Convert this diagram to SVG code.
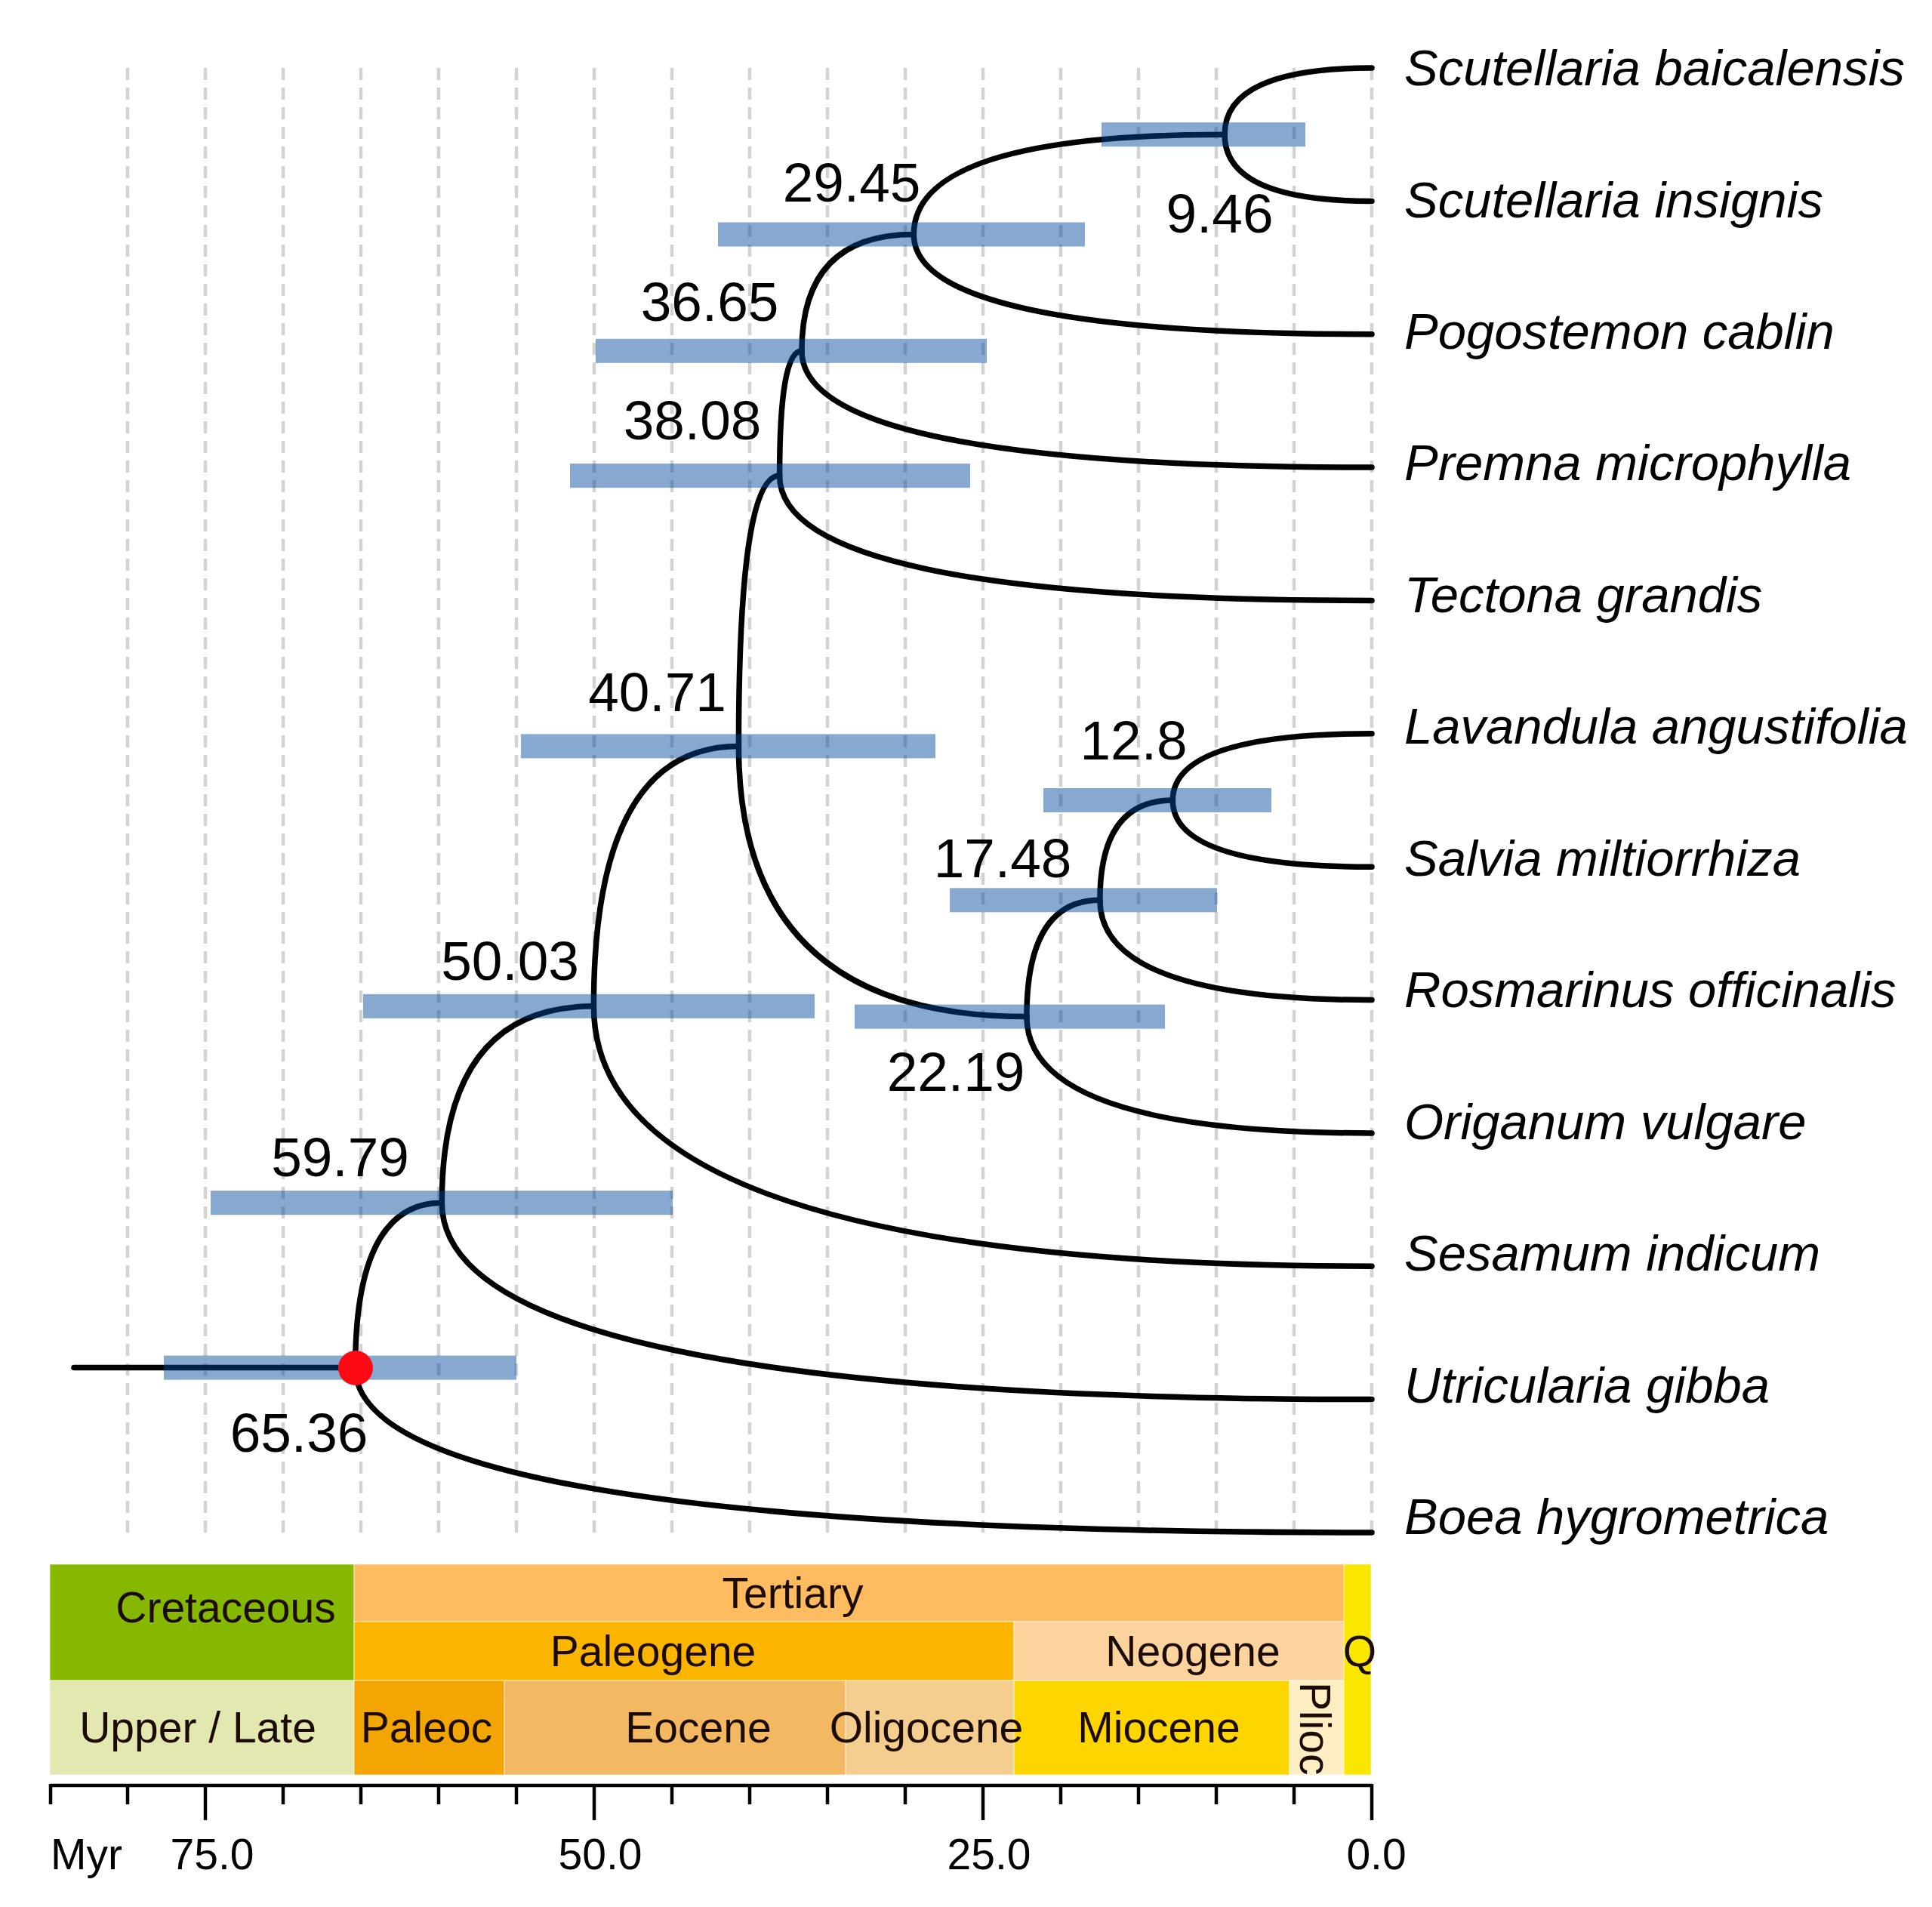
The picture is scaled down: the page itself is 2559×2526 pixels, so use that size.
<svg xmlns="http://www.w3.org/2000/svg" width="2559" height="2526" viewBox="0 0 2559 2526">
<style>
.grid{stroke:#d2d2d2;stroke-width:4.5;stroke-dasharray:16 10;fill:none}
.br{fill:none;stroke:#000;stroke-width:7.5;stroke-linecap:round}
.hpd{fill:#00469a;fill-opacity:0.47}
.age{font-family:"Liberation Sans",Arial,sans-serif;font-size:73px;fill:#000;text-anchor:middle}
.tip{font-family:"Liberation Sans",Arial,sans-serif;font-size:67px;font-style:italic;fill:#000}
.gt{font-family:"Liberation Sans",Arial,sans-serif;font-size:57px;fill:#1c0b00;text-anchor:middle}
.ax{font-family:"Liberation Sans",Arial,sans-serif;font-size:57px;fill:#000;text-anchor:middle}
.box{stroke:#ffffff;stroke-opacity:0.45;stroke-width:1.5}
.tick{stroke:#000;stroke-width:4.5}
</style>
<rect width="2559" height="2526" fill="#fff"/>
<g id="grid">
<line class="grid" x1="169" y1="90" x2="169" y2="2032"/>
<line class="grid" x1="272" y1="90" x2="272" y2="2032"/>
<line class="grid" x1="375" y1="90" x2="375" y2="2032"/>
<line class="grid" x1="478" y1="90" x2="478" y2="2032"/>
<line class="grid" x1="581" y1="90" x2="581" y2="2032"/>
<line class="grid" x1="684" y1="90" x2="684" y2="2032"/>
<line class="grid" x1="787" y1="90" x2="787" y2="2032"/>
<line class="grid" x1="890" y1="90" x2="890" y2="2032"/>
<line class="grid" x1="993" y1="90" x2="993" y2="2032"/>
<line class="grid" x1="1096" y1="90" x2="1096" y2="2032"/>
<line class="grid" x1="1199" y1="90" x2="1199" y2="2032"/>
<line class="grid" x1="1302" y1="90" x2="1302" y2="2032"/>
<line class="grid" x1="1405" y1="90" x2="1405" y2="2032"/>
<line class="grid" x1="1508" y1="90" x2="1508" y2="2032"/>
<line class="grid" x1="1611" y1="90" x2="1611" y2="2032"/>
<line class="grid" x1="1714" y1="90" x2="1714" y2="2032"/>
<line class="grid" x1="1817" y1="90" x2="1817" y2="2032"/>
</g>
<g id="connectors">
<path class="br" d="M98,1811.6 H470.6"/>
<path class="br" d="M470.6,1811.6 Q470.6,1593.2 585.3,1593.2"/>
<path class="br" d="M470.6,1811.6 Q470.6,2030 1817,2030"/>
<path class="br" d="M585.3,1593.2 Q585.3,1332.8 786.4,1332.8"/>
<path class="br" d="M585.3,1593.2 Q585.3,1853.6 1817,1853.6"/>
<path class="br" d="M786.4,1332.8 Q786.4,988.4 978.4,988.4"/>
<path class="br" d="M786.4,1332.8 Q786.4,1677.2 1817,1677.2"/>
<path class="br" d="M978.4,988.4 Q978.4,630.1 1032.6,630.1"/>
<path class="br" d="M978.4,988.4 Q978.4,1346.6 1359.9,1346.6"/>
<path class="br" d="M1032.6,630.1 Q1032.6,464.8 1062,464.8"/>
<path class="br" d="M1032.6,630.1 Q1032.6,795.4 1817,795.4"/>
<path class="br" d="M1062,464.8 Q1062,310.5 1210.3,310.5"/>
<path class="br" d="M1062,464.8 Q1062,619.1 1817,619.1"/>
<path class="br" d="M1210.3,310.5 Q1210.3,178.2 1622.1,178.2"/>
<path class="br" d="M1210.3,310.5 Q1210.3,442.7 1817,442.7"/>
<path class="br" d="M1622.1,178.2 Q1622.1,90 1817,90"/>
<path class="br" d="M1622.1,178.2 Q1622.1,266.4 1817,266.4"/>
<path class="br" d="M1359.9,1346.6 Q1359.9,1192.3 1456.9,1192.3"/>
<path class="br" d="M1359.9,1346.6 Q1359.9,1500.9 1817,1500.9"/>
<path class="br" d="M1456.9,1192.3 Q1456.9,1060 1553.3,1060"/>
<path class="br" d="M1456.9,1192.3 Q1456.9,1324.5 1817,1324.5"/>
<path class="br" d="M1553.3,1060 Q1553.3,971.8 1817,971.8"/>
<path class="br" d="M1553.3,1060 Q1553.3,1148.2 1817,1148.2"/>
</g>
<g id="node-65.36"><rect class="hpd" x="217" y="1795.6" width="467" height="32"/><text class="age" x="396" y="1923">65.36</text></g>
<g id="node-59.79"><rect class="hpd" x="279" y="1577.2" width="612" height="32"/><text class="age" x="450.5" y="1558">59.79</text></g>
<g id="node-50.03"><rect class="hpd" x="481" y="1316.8" width="598" height="32"/><text class="age" x="675.5" y="1298">50.03</text></g>
<g id="node-40.71"><rect class="hpd" x="690" y="972.4" width="549" height="32"/><text class="age" x="870.5" y="942">40.71</text></g>
<g id="node-38.08"><rect class="hpd" x="755" y="614.1" width="530" height="32"/><text class="age" x="917" y="582">38.08</text></g>
<g id="node-36.65"><rect class="hpd" x="789" y="448.8" width="518" height="32"/><text class="age" x="940" y="425">36.65</text></g>
<g id="node-29.45"><rect class="hpd" x="951" y="294.5" width="486" height="32"/><text class="age" x="1128" y="267">29.45</text></g>
<g id="node-9.46"><rect class="hpd" x="1459" y="162.2" width="270" height="32"/><text class="age" x="1615.5" y="308">9.46</text></g>
<g id="node-22.19"><rect class="hpd" x="1132" y="1330.6" width="411" height="32"/><text class="age" x="1266" y="1445">22.19</text></g>
<g id="node-17.48"><rect class="hpd" x="1258" y="1176.3" width="354" height="32"/><text class="age" x="1328" y="1162">17.48</text></g>
<g id="node-12.8"><rect class="hpd" x="1382" y="1044" width="302" height="32"/><text class="age" x="1501.5" y="1006">12.8</text></g>
<g id="root-marker"><circle cx="471" cy="1812" r="23" fill="#ff0a14"/></g>
<g id="tips">
<text id="tip-1" class="tip" x="1860" y="113">Scutellaria baicalensis</text>
<text id="tip-2" class="tip" x="1860" y="287.5">Scutellaria insignis</text>
<text id="tip-3" class="tip" x="1860" y="461.9">Pogostemon cablin</text>
<text id="tip-4" class="tip" x="1860" y="636.4">Premna microphylla</text>
<text id="tip-5" class="tip" x="1860" y="810.8">Tectona grandis</text>
<text id="tip-6" class="tip" x="1860" y="985.3">Lavandula angustifolia</text>
<text id="tip-7" class="tip" x="1860" y="1159.7">Salvia miltiorrhiza</text>
<text id="tip-8" class="tip" x="1860" y="1334.2">Rosmarinus officinalis</text>
<text id="tip-9" class="tip" x="1860" y="1508.6">Origanum vulgare</text>
<text id="tip-10" class="tip" x="1860" y="1683.1">Sesamum indicum</text>
<text id="tip-11" class="tip" x="1860" y="1857.5">Utricularia gibba</text>
<text id="tip-12" class="tip" x="1860" y="2032">Boea hygrometrica</text>
</g>
<g id="timescale">
<rect class="box" x="66" y="2072" width="403" height="154" fill="#86b800"/>
<rect class="box" x="66" y="2226" width="403" height="125" fill="#e2e8b0"/>
<rect class="box" x="469" y="2072" width="1311" height="76" fill="#febb5f"/>
<rect class="box" x="469" y="2148" width="874" height="78" fill="#fdb600"/>
<rect class="box" x="1343" y="2148" width="437" height="78" fill="#fed49e"/>
<rect class="box" x="469" y="2226" width="199" height="125" fill="#f3a503"/>
<rect class="box" x="668" y="2226" width="452" height="125" fill="#f2b962"/>
<rect class="box" x="1120" y="2226" width="223" height="125" fill="#f3ce8f"/>
<rect class="box" x="1343" y="2226" width="365" height="125" fill="#fdd600"/>
<rect class="box" x="1708" y="2226" width="72" height="125" fill="#ffeec4"/>
<rect class="box" x="1780" y="2072" width="36" height="279" fill="#fae700"/>
<text class="gt" x="299" y="2149">Cretaceous</text>
<text class="gt" x="1050" y="2130">Tertiary</text>
<text class="gt" x="865" y="2207">Paleogene</text>
<text class="gt" x="1580" y="2207">Neogene</text>
<text class="gt" x="1801" y="2207">Q</text>
<text class="gt" x="262" y="2308">Upper / Late</text>
<text class="gt" x="565" y="2308">Paleoc</text>
<text class="gt" x="925" y="2308">Eocene</text>
<text class="gt" x="1227" y="2308">Oligocene</text>
<text class="gt" x="1535" y="2308">Miocene</text>
<text class="gt" style="text-anchor:start" transform="translate(1722,2228) rotate(90)" x="0" y="0">Plioc</text>
</g>
<g id="axis">
<line class="tick" x1="67" y1="2365" x2="1817" y2="2365" stroke-width="5"/>
<line class="tick" x1="67" y1="2363" x2="67" y2="2390"/>
<line class="tick" x1="169" y1="2363" x2="169" y2="2390"/>
<line class="tick" x1="272" y1="2363" x2="272" y2="2411"/>
<line class="tick" x1="375" y1="2363" x2="375" y2="2390"/>
<line class="tick" x1="478" y1="2363" x2="478" y2="2390"/>
<line class="tick" x1="581" y1="2363" x2="581" y2="2390"/>
<line class="tick" x1="684" y1="2363" x2="684" y2="2390"/>
<line class="tick" x1="787" y1="2363" x2="787" y2="2411"/>
<line class="tick" x1="890" y1="2363" x2="890" y2="2390"/>
<line class="tick" x1="993" y1="2363" x2="993" y2="2390"/>
<line class="tick" x1="1096" y1="2363" x2="1096" y2="2390"/>
<line class="tick" x1="1199" y1="2363" x2="1199" y2="2390"/>
<line class="tick" x1="1302" y1="2363" x2="1302" y2="2411"/>
<line class="tick" x1="1405" y1="2363" x2="1405" y2="2390"/>
<line class="tick" x1="1508" y1="2363" x2="1508" y2="2390"/>
<line class="tick" x1="1611" y1="2363" x2="1611" y2="2390"/>
<line class="tick" x1="1714" y1="2363" x2="1714" y2="2390"/>
<line class="tick" x1="1817" y1="2363" x2="1817" y2="2411"/>
<text class="ax" style="text-anchor:start" x="67" y="2476">Myr</text>
<text class="ax" x="281" y="2476">75.0</text>
<text class="ax" x="795" y="2476">50.0</text>
<text class="ax" x="1310" y="2476">25.0</text>
<text class="ax" x="1823" y="2476">0.0</text>
</g>
</svg>
